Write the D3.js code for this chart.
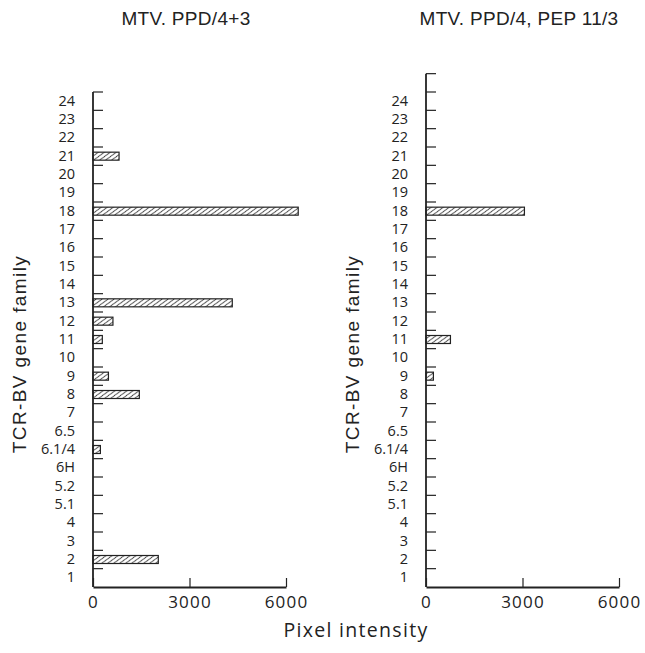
<!DOCTYPE html>
<html>
<head>
<meta charset="utf-8">
<script src="https://cdn.jsdelivr.net/npm/d3@7"></script>
<style>
  body { margin: 0; background: #fff; }
  svg { display: block; }
</style>
</head>
<body>
<svg></svg>
<script>
// gene families, bottom to top
let families = ['1', '2', '3', '4', '5.1', '5.2', '6H', '6.1/4', '6.5', '7', '8', '9', '10',
  '11', '12', '13', '14', '15', '16', '17', '18', '19', '20', '21', '22', '23', '24'];

let leftFamilies = ['2', '6.1/4', '8', '9', '11', '12', '13', '18', '21'];
let leftValues = [2030, 230, 1440, 480, 290, 620, 4330, 6380, 810];

let rightFamilies = ['9', '11', '18'];
let rightValues = [230, 760, 3060];

let xTicks = [0, 3000, 6000];
let titles = ['MTV. PPD/4+3', 'MTV. PPD/4, PEP 11/3'];

let w = 645;
let h = 653;
let bottom = 587;
let step = 495 / 27;
let barH = 8;
let ink = '#222';

let svg = d3.select('svg')
  .attr('width', w)
  .attr('height', h);

// diagonal hatch
let defs = svg.append('defs');
defs.append('pattern')
  .attr('id', 'hatch')
  .attr('patternUnits', 'userSpaceOnUse')
  .attr('width', 6)
  .attr('height', 6)
  .attr('patternTransform', 'skewX(-20)')
  .append('path')
  .attr('d', 'M-1,1 l2,-2 M0,6 l6,-6 M5,7 l2,-2')
  .attr('stroke', ink)
  .attr('stroke-width', 0.9);

let drawPanel = (left, cats, names, values, title) => {
  let top = bottom - cats.length * step;

  let yScale = d3.scaleBand()
    .domain(cats)
    .range([bottom, top])
    .padding(0);

  let xScale = d3.scaleLinear()
    .domain([0, 6000])
    .range([left, left + 193]);

  let g = svg.append('g');

  // labels at band centres
  let yAxis = d3.axisLeft(yScale)
    .tickSize(0)
    .tickPadding(18)
    .tickFormat(d => d.startsWith('_') ? '' : d);

  g.append('g')
    .attr('transform', 'translate(' + left + ',0)')
    .call(yAxis)
    .call(a => a.select('.domain').remove())
    .selectAll('text')
    .attr('font-family', 'Open Sans, sans-serif')
    .attr('font-size', 14.5)
    .attr('fill', ink);

  // ticks at band edges, pointing inward
  let edges = cats.map(c => yScale(c));
  g.selectAll('line.edge')
    .data(edges)
    .enter()
    .append('line')
    .attr('class', 'edge')
    .attr('x1', left)
    .attr('x2', left + 10)
    .attr('y1', d => d)
    .attr('y2', d => d)
    .attr('stroke', ink)
    .attr('stroke-width', 1.2);

  g.append('line')
    .attr('x1', left)
    .attr('x2', left)
    .attr('y1', top)
    .attr('y2', bottom)
    .attr('stroke', ink)
    .attr('stroke-width', 1.8);

  let xAxis = d3.axisBottom(xScale)
    .tickValues(xTicks)
    .tickSizeInner(-9)
    .tickSizeOuter(0)
    .tickPadding(9)
    .tickFormat(d3.format('d'));

  g.append('g')
    .attr('transform', 'translate(0,' + bottom + ')')
    .call(xAxis)
    .call(a => a.select('.domain').attr('stroke', ink).attr('stroke-width', 1.8))
    .call(a => a.selectAll('.tick line').attr('stroke', ink).attr('stroke-width', 1.2))
    .selectAll('text')
    .attr('font-family', 'Open Sans, sans-serif')
    .attr('font-size', 17)
    .attr('letter-spacing', 1.2)
    .attr('fill', ink);

  g.selectAll('rect.bar')
    .data(names)
    .enter()
    .append('rect')
    .attr('class', 'bar')
    .attr('x', left)
    .attr('y', d => yScale(d) + (step - barH) / 2)
    .attr('width', (d, i) => xScale(values[i]) - left)
    .attr('height', barH)
    .attr('fill', 'url(#hatch)')
    .attr('stroke', ink)
    .attr('stroke-width', 1.2);

  g.append('text')
    .attr('x', left + 93)
    .attr('y', 25)
    .attr('text-anchor', 'middle')
    .attr('font-family', 'Liberation Sans, Arial, sans-serif')
    .attr('font-size', 19)
    .attr('letter-spacing', 0.3)
    .attr('fill', ink)
    .text(title);

  g.append('text')
    .attr('transform', 'translate(' + (left - 67) + ',' + 354 + ') rotate(-90)')
    .attr('text-anchor', 'middle')
    .attr('font-family', 'Liberation Sans, Arial, sans-serif')
    .attr('font-size', 19)
    .attr('letter-spacing', 1.4)
    .attr('fill', ink)
    .text('TCR-BV gene family');
};

drawPanel(93, families, leftFamilies, leftValues, titles[0]);
drawPanel(426, families.concat(['_top']), rightFamilies, rightValues, titles[1]);

svg.append('text')
  .attr('x', 356)
  .attr('y', 637)
  .attr('text-anchor', 'middle')
  .attr('font-family', 'Open Sans, sans-serif')
  .attr('font-size', 19.5)
  .attr('letter-spacing', 1.3)
  .attr('fill', ink)
  .text('Pixel intensity');
</script>
</body>
</html>
